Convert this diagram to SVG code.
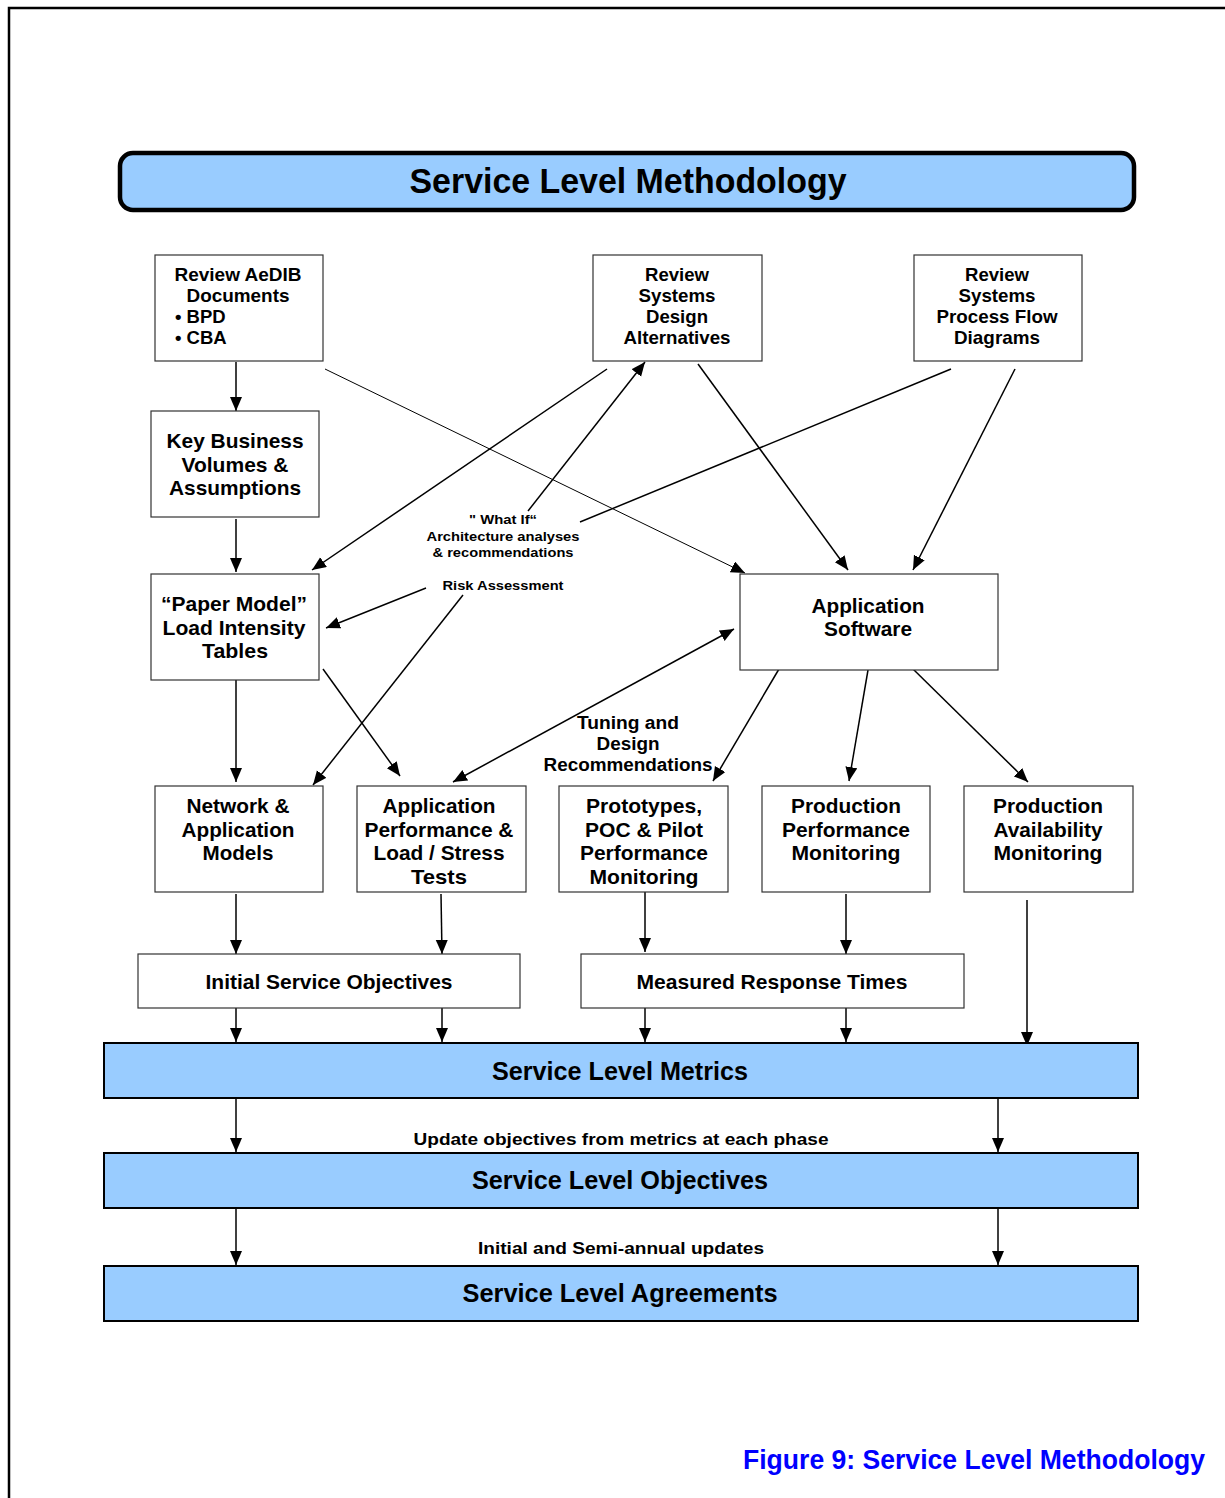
<svg xmlns="http://www.w3.org/2000/svg" width="1225" height="1498" viewBox="0 0 1225 1498">
  <defs>
    <marker id="arrow" markerUnits="userSpaceOnUse" markerWidth="16" markerHeight="14" refX="14" refY="6" orient="auto-start-reverse">
      <path d="M0,0 L14,6 L0,12 z" fill="#000"/>
    </marker>
    <style>
      text { font-family: "Liberation Sans", Arial, sans-serif; font-weight: bold; fill: #000; text-anchor: middle; }
      .box { fill: #fff; stroke: #333; stroke-width: 1.2; }
      .band { fill: #99CCFF; stroke: #000; stroke-width: 2; }
      .t18 { font-size: 18.5px; }
      .t21 { font-size: 21px; }
      .t25 { font-size: 25px; }
      .lbl { font-size: 17px; }
      .small { font-size: 13.5px; }
      .conn { fill: none; stroke: #000; stroke-width: 1.5; }
      .arr { marker-end: url(#arrow); }
    </style>
  </defs>

  <!-- page frame (left and top rules) -->
  <path d="M9,1498 V8 H1225" fill="none" stroke="#000" stroke-width="2.5"/>

  <!-- heading bar -->
  <g id="title">
    <rect x="120" y="153" width="1014" height="57" rx="13" ry="13" fill="#99CCFF" stroke="#000" stroke-width="4.5"/>
    <text x="628" y="193" font-size="35" textLength="437" lengthAdjust="spacingAndGlyphs">Service Level Methodology</text>
  </g>

  <!-- connectors -->
  <g id="connectors">
    <line class="conn arr" x1="236" y1="362" x2="236" y2="411"/>
    <line class="conn arr" x1="236" y1="519" x2="236" y2="572"/>
    <line x1="325" y1="369" x2="745" y2="573" stroke="#000" stroke-width="1" marker-end="url(#arrow)"/>
    <line class="conn arr" x1="607" y1="369" x2="312" y2="570"/>
    <line class="conn arr" x1="528" y1="511" x2="645" y2="362"/>
    <line class="conn" x1="951" y1="369" x2="580" y2="522"/>
    <line class="conn arr" x1="698" y1="364" x2="848" y2="570"/>
    <line class="conn arr" x1="1015" y1="369" x2="913" y2="570"/>
    <line class="conn arr" x1="426" y1="588" x2="326" y2="628"/>
    <line class="conn arr" x1="463" y1="595" x2="313" y2="785"/>
    <line class="conn arr" x1="236" y1="680" x2="236" y2="782"/>
    <line class="conn arr" x1="323" y1="669" x2="400" y2="776"/>
    <line class="conn arr" x1="453" y1="782" x2="734" y2="629" marker-start="url(#arrow)"/>
    <line class="conn arr" x1="779" y1="669" x2="713" y2="781"/>
    <line class="conn arr" x1="868" y1="670" x2="849" y2="781"/>
    <line class="conn arr" x1="913" y1="669" x2="1028" y2="782"/>

    <line class="conn arr" x1="236" y1="894" x2="236" y2="954"/>
    <line class="conn arr" x1="441" y1="894" x2="442" y2="954"/>
    <line class="conn arr" x1="645" y1="892" x2="645" y2="952"/>
    <line class="conn arr" x1="846" y1="894" x2="846" y2="954"/>
    <line class="conn arr" x1="1027" y1="900" x2="1027" y2="1046"/>

    <line class="conn arr" x1="236" y1="1008" x2="236" y2="1042"/>
    <line class="conn arr" x1="442" y1="1008" x2="442" y2="1042"/>
    <line class="conn arr" x1="645" y1="1008" x2="645" y2="1042"/>
    <line class="conn arr" x1="846" y1="1008" x2="846" y2="1042"/>

    <line class="conn arr" x1="236" y1="1099" x2="236" y2="1152"/>
    <line class="conn arr" x1="998" y1="1099" x2="998" y2="1152"/>
    <line class="conn arr" x1="236" y1="1209" x2="236" y2="1265"/>
    <line class="conn arr" x1="998" y1="1209" x2="998" y2="1265"/>
  </g>

  <!-- connector labels -->
  <g id="label-whatif" class="small">
    <text x="503" y="524" textLength="68" lengthAdjust="spacingAndGlyphs">" What If“</text>
    <text x="503" y="541" textLength="153" lengthAdjust="spacingAndGlyphs">Architecture analyses</text>
    <text x="503" y="557" textLength="141" lengthAdjust="spacingAndGlyphs">&amp; recommendations</text>
  </g>
  <g id="label-risk" class="small">
    <text x="503" y="590" textLength="121" lengthAdjust="spacingAndGlyphs">Risk Assessment</text>
  </g>
  <g id="label-tuning" font-size="18">
    <text x="628" y="729" font-size="18" textLength="102" lengthAdjust="spacingAndGlyphs">Tuning and</text>
    <text x="628" y="750" font-size="18" textLength="63" lengthAdjust="spacingAndGlyphs">Design</text>
    <text x="628" y="771" font-size="18" textLength="169" lengthAdjust="spacingAndGlyphs">Recommendations</text>
  </g>
  <g id="label-update">
    <text class="lbl" x="621" y="1145" textLength="415" lengthAdjust="spacingAndGlyphs">Update objectives from metrics at each phase</text>
  </g>
  <g id="label-semiannual">
    <text class="lbl" x="621" y="1254" textLength="286" lengthAdjust="spacingAndGlyphs">Initial and Semi-annual updates</text>
  </g>

  <!-- source review boxes -->
  <g id="review-aedib">
    <rect class="box" x="155" y="255" width="168" height="106"/>
    <text class="t18" x="238" y="281" textLength="127" lengthAdjust="spacingAndGlyphs">Review AeDIB</text>
    <text class="t18" x="238" y="302" textLength="103" lengthAdjust="spacingAndGlyphs">Documents</text>
    <text class="t18" x="175" y="323" text-anchor="start" style="text-anchor:start">• BPD</text>
    <text class="t18" x="175" y="344" style="text-anchor:start">• CBA</text>
  </g>
  <g id="review-design">
    <rect class="box" x="593" y="255" width="169" height="106"/>
    <text class="t18" x="677" y="281" textLength="64" lengthAdjust="spacingAndGlyphs">Review</text>
    <text class="t18" x="677" y="302" textLength="77" lengthAdjust="spacingAndGlyphs">Systems</text>
    <text class="t18" x="677" y="323" textLength="62" lengthAdjust="spacingAndGlyphs">Design</text>
    <text class="t18" x="677" y="344" textLength="107" lengthAdjust="spacingAndGlyphs">Alternatives</text>
  </g>
  <g id="review-flow">
    <rect class="box" x="914" y="255" width="168" height="106"/>
    <text class="t18" x="997" y="281" textLength="64" lengthAdjust="spacingAndGlyphs">Review</text>
    <text class="t18" x="997" y="302" textLength="77" lengthAdjust="spacingAndGlyphs">Systems</text>
    <text class="t18" x="997" y="323" textLength="121" lengthAdjust="spacingAndGlyphs">Process Flow</text>
    <text class="t18" x="997" y="344" textLength="86" lengthAdjust="spacingAndGlyphs">Diagrams</text>
  </g>

  <!-- modelling boxes -->
  <g id="key-business">
    <rect class="box" x="151" y="411" width="168" height="106"/>
    <text class="t21" x="235" y="448" textLength="137" lengthAdjust="spacingAndGlyphs">Key Business</text>
    <text class="t21" x="235" y="472" textLength="107" lengthAdjust="spacingAndGlyphs">Volumes &amp;</text>
    <text class="t21" x="235" y="495" textLength="132" lengthAdjust="spacingAndGlyphs">Assumptions</text>
  </g>
  <g id="paper-model">
    <rect class="box" x="151" y="574" width="168" height="106"/>
    <text class="t21" x="234" y="611" textLength="146" lengthAdjust="spacingAndGlyphs">“Paper Model”</text>
    <text class="t21" x="234" y="635" textLength="143" lengthAdjust="spacingAndGlyphs">Load Intensity</text>
    <text class="t21" x="235" y="658" textLength="66" lengthAdjust="spacingAndGlyphs">Tables</text>
  </g>
  <g id="app-software">
    <rect class="box" x="740" y="574" width="258" height="96"/>
    <text class="t21" x="868" y="613" textLength="113" lengthAdjust="spacingAndGlyphs">Application</text>
    <text class="t21" x="868" y="636" textLength="88" lengthAdjust="spacingAndGlyphs">Software</text>
  </g>

  <!-- measurement row -->
  <g id="network-models">
    <rect class="box" x="155" y="786" width="168" height="106"/>
    <text class="t21" x="238" y="813" textLength="103" lengthAdjust="spacingAndGlyphs">Network &amp;</text>
    <text class="t21" x="238" y="837" textLength="113" lengthAdjust="spacingAndGlyphs">Application</text>
    <text class="t21" x="238" y="860" textLength="71" lengthAdjust="spacingAndGlyphs">Models</text>
  </g>
  <g id="load-tests">
    <rect class="box" x="357" y="786" width="169" height="106"/>
    <text class="t21" x="439" y="813" textLength="113" lengthAdjust="spacingAndGlyphs">Application</text>
    <text class="t21" x="439" y="837" textLength="149" lengthAdjust="spacingAndGlyphs">Performance &amp;</text>
    <text class="t21" x="439" y="860" textLength="131" lengthAdjust="spacingAndGlyphs">Load / Stress</text>
    <text class="t21" x="439" y="884" textLength="56" lengthAdjust="spacingAndGlyphs">Tests</text>
  </g>
  <g id="prototypes">
    <rect class="box" x="559" y="786" width="169" height="106"/>
    <text class="t21" x="644" y="813" textLength="116" lengthAdjust="spacingAndGlyphs">Prototypes,</text>
    <text class="t21" x="644" y="837" textLength="118" lengthAdjust="spacingAndGlyphs">POC &amp; Pilot</text>
    <text class="t21" x="644" y="860" textLength="128" lengthAdjust="spacingAndGlyphs">Performance</text>
    <text class="t21" x="644" y="884" textLength="109" lengthAdjust="spacingAndGlyphs">Monitoring</text>
  </g>
  <g id="prod-performance">
    <rect class="box" x="762" y="786" width="168" height="106"/>
    <text class="t21" x="846" y="813" textLength="110" lengthAdjust="spacingAndGlyphs">Production</text>
    <text class="t21" x="846" y="837" textLength="128" lengthAdjust="spacingAndGlyphs">Performance</text>
    <text class="t21" x="846" y="860" textLength="109" lengthAdjust="spacingAndGlyphs">Monitoring</text>
  </g>
  <g id="prod-availability">
    <rect class="box" x="964" y="786" width="169" height="106"/>
    <text class="t21" x="1048" y="813" textLength="110" lengthAdjust="spacingAndGlyphs">Production</text>
    <text class="t21" x="1048" y="837" textLength="109" lengthAdjust="spacingAndGlyphs">Availability</text>
    <text class="t21" x="1048" y="860" textLength="109" lengthAdjust="spacingAndGlyphs">Monitoring</text>
  </g>

  <!-- result boxes -->
  <g id="initial-objectives">
    <rect class="box" x="138" y="954" width="382" height="54" stroke="#000"/>
    <text class="t21" x="329" y="989" textLength="247" lengthAdjust="spacingAndGlyphs">Initial Service Objectives</text>
  </g>
  <g id="measured-times">
    <rect class="box" x="581" y="954" width="383" height="54" stroke="#000"/>
    <text class="t21" x="772" y="989" textLength="271" lengthAdjust="spacingAndGlyphs">Measured Response Times</text>
  </g>

  <!-- service level bands -->
  <g id="sl-metrics">
    <rect class="band" x="104" y="1043" width="1034" height="55"/>
    <text class="t25" x="620" y="1080" textLength="256" lengthAdjust="spacingAndGlyphs">Service Level Metrics</text>
  </g>
  <g id="sl-objectives">
    <rect class="band" x="104" y="1153" width="1034" height="55"/>
    <text class="t25" x="620" y="1189" textLength="296" lengthAdjust="spacingAndGlyphs">Service Level Objectives</text>
  </g>
  <g id="sl-agreements">
    <rect class="band" x="104" y="1266" width="1034" height="55"/>
    <text class="t25" x="620" y="1302" textLength="315" lengthAdjust="spacingAndGlyphs">Service Level Agreements</text>
  </g>

  <!-- caption -->
  <text x="974" y="1469" font-size="27" style="fill:#0000FF" textLength="462" lengthAdjust="spacingAndGlyphs">Figure 9: Service Level Methodology</text>
</svg>
